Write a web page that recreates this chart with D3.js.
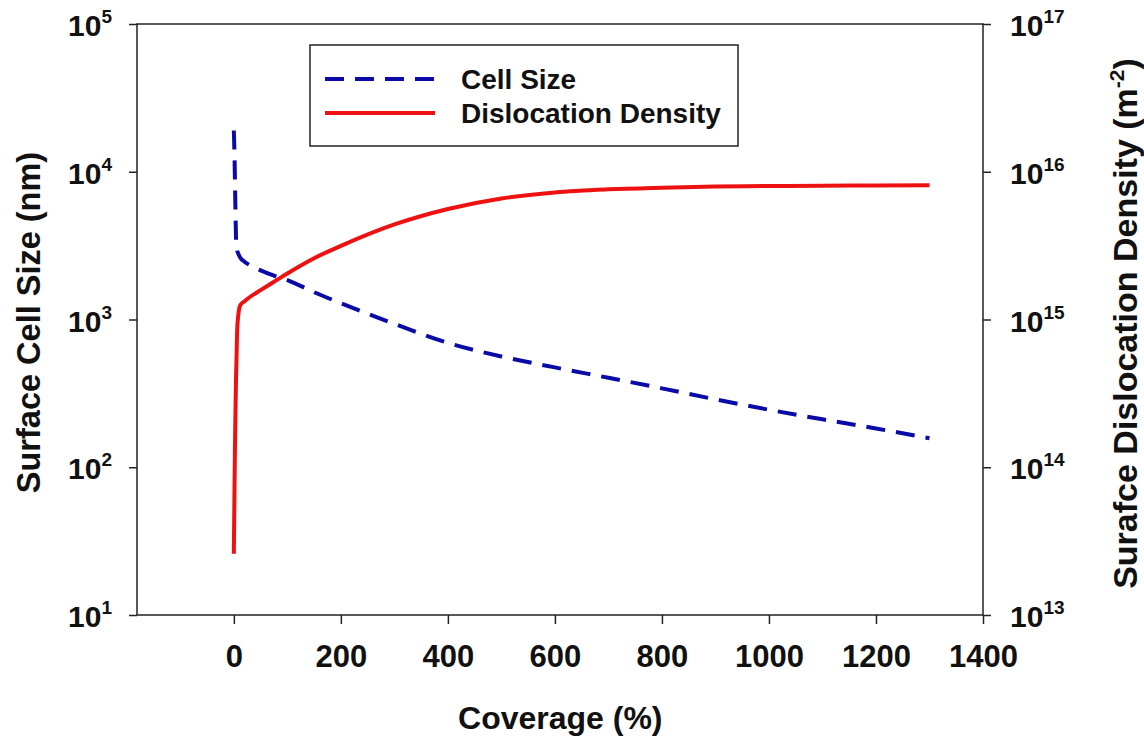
<!DOCTYPE html>
<html>
<head>
<meta charset="utf-8">
<script src="https://cdn.jsdelivr.net/npm/d3@7"></script>
<style>
  body { margin: 0; background: #fff; }
  text { font-family: Arial, "Liberation Sans", sans-serif; font-weight: bold; fill: #111; }
</style>
</head>
<body>
<div id="container"></div>
<script>
// Data
const coverage = [0, 1, 2, 3, 4, 5, 6, 8, 12, 20, 30, 50, 75, 100, 150, 200, 300, 400, 500, 600, 700, 800, 900, 1000, 1100, 1200, 1300];
const cellSize = [19000, 14000, 9000, 5500, 3600, 3150, 2950, 2800, 2620, 2460, 2330, 2150, 1980, 1850, 1530, 1290, 935, 695, 562, 474, 403, 342, 288, 245, 211, 183, 157];
const dislocation = [2.6e13, 6e13, 1.3e14, 2.3e14, 3.9e14, 5.5e14, 8e14, 1.05e15, 1.25e15, 1.33e15, 1.42e15, 1.58e15, 1.8e15, 2.05e15, 2.6e15, 3.15e15, 4.4e15, 5.6e15, 6.6e15, 7.25e15, 7.6e15, 7.8e15, 7.95e15, 8.0e15, 8.05e15, 8.08e15, 8.1e15];
const xTicks = [0, 200, 400, 600, 800, 1000, 1200, 1400];
const leftExps = [1, 2, 3, 4, 5];
const rightExps = [13, 14, 15, 16, 17];
const seriesNames = ["Cell Size", "Dislocation Density"];

// Dimensions and margins
const W = 1144, H = 738;
const margin = { top: 24, right: 161, bottom: 123, left: 137 };
const width = W - margin.left - margin.right;
const height = H - margin.top - margin.bottom;

const svg = d3.select("#container")
    .append("svg")
    .attr("width", W)
    .attr("height", H);

const g = svg.append("g")
    .attr("transform", `translate(${margin.left},${margin.top})`);

// Scales
const x = d3.scaleLinear().domain([-181, 1400]).range([0, width]);
const yL = d3.scaleLog().domain([10, 1e5]).range([height, 0]);
const yR = d3.scaleLog().domain([1e13, 1e17]).range([height, 0]);

// Frame
g.append("rect")
    .attr("width", width).attr("height", height)
    .attr("fill", "none").attr("stroke", "#222").attr("stroke-width", 1.5);

// Bottom axis
const xAxis = g.append("g")
    .attr("transform", `translate(0,${height})`)
    .call(d3.axisBottom(x).tickValues(xTicks).tickSize(9).tickSizeOuter(0)
        .tickPadding(21).tickFormat(d3.format("d")));
xAxis.select(".domain").remove();
xAxis.selectAll("line").attr("stroke", "#222").attr("stroke-width", 1.5);
xAxis.selectAll("text").style("font-size", "31px").attr("fill", "#111");

// Left axis
const lAxis = g.append("g")
    .call(d3.axisLeft(yL).tickValues(leftExps.map(e => Math.pow(10, e))).tickSize(8).tickSizeOuter(0).tickFormat(""));
lAxis.select(".domain").remove();
lAxis.selectAll("line").attr("stroke", "#222").attr("stroke-width", 1.5);

// Right axis
const rAxis = g.append("g")
    .attr("transform", `translate(${width},0)`)
    .call(d3.axisRight(yR).tickValues(rightExps.map(e => Math.pow(10, e))).tickSize(8).tickSizeOuter(0).tickFormat(""));
rAxis.select(".domain").remove();
rAxis.selectAll("line").attr("stroke", "#222").attr("stroke-width", 1.5);

// Power-of-ten labels
function powLabel(sel, exp, anchor) {
    const t = sel.append("text")
        .attr("text-anchor", anchor)
        .style("font-size", "30px");
    t.append("tspan").text("10");
    t.append("tspan").attr("dy", -13).style("font-size", "19px").text(exp);
    return t;
}
leftExps.forEach(e => {
    powLabel(g, e, "end")
        .attr("x", -25)
        .attr("y", yL(Math.pow(10, e)) + 12);
});
rightExps.forEach(e => {
    powLabel(g, e, "start")
        .attr("x", width + 27)
        .attr("y", yR(Math.pow(10, e)) + 12);
});

// Axis titles
svg.append("text")
    .attr("x", margin.left + x(610)).attr("y", 729)
    .attr("text-anchor", "middle")
    .style("font-size", "32px")
    .text("Coverage (%)");

svg.append("text")
    .attr("transform", `translate(40,${margin.top + height / 2 + 3}) rotate(-90)`)
    .attr("text-anchor", "middle")
    .style("font-size", "32.5px")
    .text("Surface Cell Size (nm)");

const rt = svg.append("text")
    .attr("transform", `translate(1137,${margin.top + height / 2 + 4}) rotate(-90)`)
    .attr("text-anchor", "middle")
    .style("font-size", "34px");
rt.append("tspan").text("Surafce Dislocation Density (m");
rt.append("tspan").attr("dy", -13).style("font-size", "21px").text("-2");
rt.append("tspan").attr("dy", 13).text(")");

// Lines
const cellLine = d3.line()
    .x((d, i) => x(coverage[i]))
    .y(d => yL(d))
    .curve(d3.curveMonotoneX);
const disLine = d3.line()
    .x((d, i) => x(coverage[i]))
    .y(d => yR(d))
    .curve(d3.curveMonotoneX);

g.append("path")
    .datum(dislocation)
    .attr("d", disLine)
    .attr("fill", "none")
    .attr("stroke", "#ee1111")
    .attr("stroke-width", 4);

g.append("path")
    .datum(cellSize)
    .attr("d", cellLine)
    .attr("fill", "none")
    .attr("stroke", "#0a0aa6")
    .attr("stroke-width", 4)
    .attr("stroke-dasharray", "19,11");

// Legend
const legend = svg.append("g").attr("transform", "translate(310,45)");
legend.append("rect")
    .attr("width", 428).attr("height", 101)
    .attr("fill", "#fff").attr("stroke", "#222").attr("stroke-width", 1.5);
const legY = [34, 68];
const legStyle = [
    { color: "#0a0aa6", dash: "19,11" },
    { color: "#ee1111", dash: null }
];
seriesNames.forEach((name, i) => {
    legend.append("line")
        .attr("x1", 15).attr("x2", 125)
        .attr("y1", legY[i]).attr("y2", legY[i])
        .attr("stroke", legStyle[i].color)
        .attr("stroke-width", 4)
        .attr("stroke-dasharray", legStyle[i].dash);
    legend.append("text")
        .attr("x", 151).attr("y", legY[i] + 10)
        .style("font-size", "28px")
        .text(name);
});
</script>
</body>
</html>
